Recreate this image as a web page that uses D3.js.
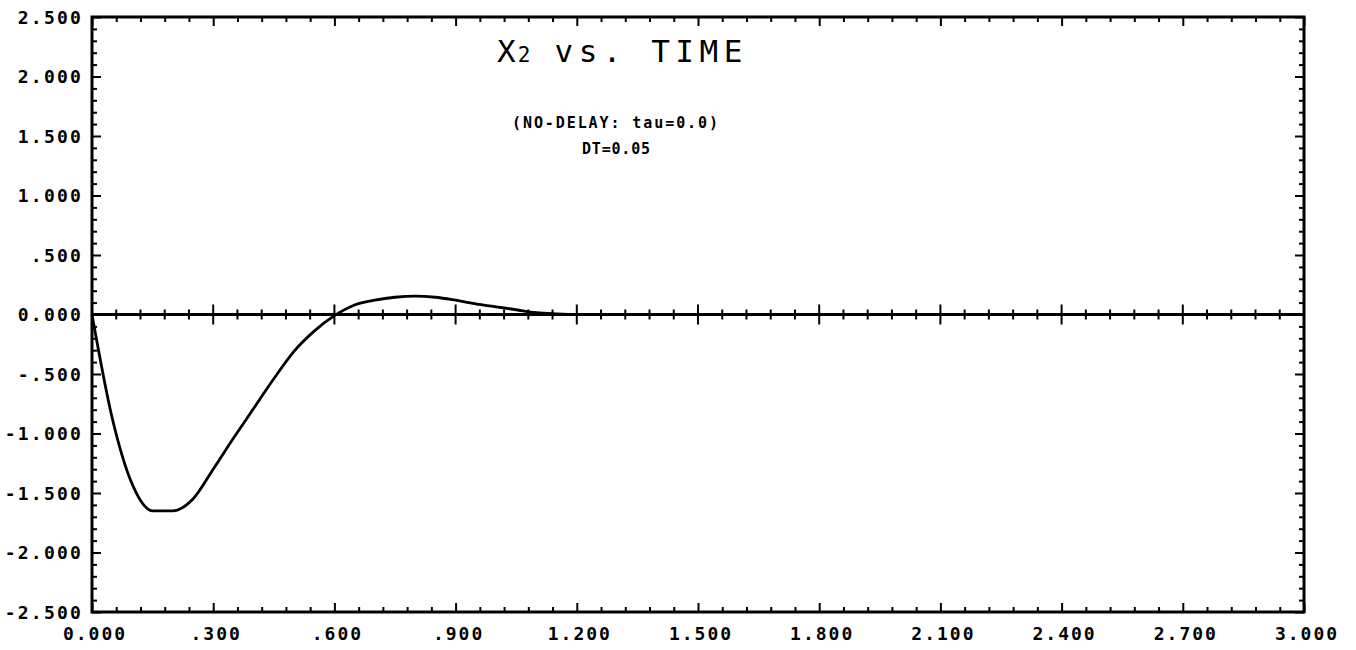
<!DOCTYPE html>
<html>
<head>
<meta charset="utf-8">
<script src="https://cdn.jsdelivr.net/npm/d3@7"></script>
<style>
  html, body { margin: 0; padding: 0; background: #fff; }
  svg { display: block; }
  .lbl { font-family: "DejaVu Sans Mono", monospace; font-weight: bold; font-size: 18px; fill: #000; }
  .ttl { font-family: "DejaVu Sans Mono", monospace; font-size: 31px; fill: #000; }
  .sub { font-family: "DejaVu Sans Mono", monospace; font-weight: bold; font-size: 15px; fill: #000; }
</style>
</head>
<body>
<svg id="chart" width="1356" height="650"></svg>
<script>
// ---- data ----
const timeValues = [0.00,0.05,0.10,0.15,0.20,0.25,0.30,0.35,0.40,0.45,0.50,0.55,0.60,0.65,0.70,0.75,0.80,0.85,0.90,0.95,1.00,1.05,1.10,1.15,1.20,1.30,1.40,1.50,1.60,1.70,1.80,1.90,2.00,2.20,2.40,2.60,2.80,3.00];
const x2Values   = [0.00,-0.87,-1.43,-1.65,-1.65,-1.55,-1.30,-1.04,-0.79,-0.54,-0.31,-0.14,-0.01,0.08,0.12,0.145,0.155,0.145,0.12,0.09,0.065,0.04,0.015,0.005,0.00,0.00,0.00,0.00,0.00,0.00,0.00,0.00,0.00,0.00,0.00,0.00,0.00,0.00];
const xTickValues = [0,0.3,0.6,0.9,1.2,1.5,1.8,2.1,2.4,2.7,3.0];
const xTickLabels = ["0.000",".300",".600",".900","1.200","1.500","1.800","2.100","2.400","2.700","3.000"];
const yTickValues = [2.5,2.0,1.5,1.0,0.5,0,-0.5,-1.0,-1.5,-2.0,-2.5];
const yTickLabels = ["2.500","2.000","1.500","1.000",".500","0.000","-.500","-1.000","-1.500","-2.000","-2.500"];
const titleMain = "X";
const titleSub = "2";
const titleRest = " vs. TIME";
const subtitle1 = "(NO-DELAY: tau=0.0)";
const subtitle2 = "DT=0.05";

// ---- layout ----
const L = 92, R = 1304, T = 17, B = 612;
const svg = d3.select("#chart");
const x = d3.scaleLinear().domain([0, 3]).range([L, R]);
const y = d3.scaleLinear().domain([-2.5, 2.5]).range([B, T]);

const xMinor = d3.range(0, 3.0001, 0.06);
const yMinor = d3.range(-2.5, 2.5001, 0.1);
const isMajorX = v => Math.abs(v / 0.3 - Math.round(v / 0.3)) < 1e-6;
const isMajorY = v => Math.abs(v / 0.5 - Math.round(v / 0.5)) < 1e-6;

function styleAxis(g) {
  g.select(".domain").remove();
  g.selectAll("line").attr("stroke", "#000").attr("stroke-width", 2);
  g.selectAll("text").remove();
}
// bottom axis: ticks pointing up (inward)
svg.append("g").attr("transform", `translate(0,${B})`)
  .call(d3.axisTop(x).tickValues(xMinor.filter(v => !isMajorX(v))).tickSize(5)).call(styleAxis);
svg.append("g").attr("transform", `translate(0,${B})`)
  .call(d3.axisTop(x).tickValues(xTickValues).tickSize(9)).call(styleAxis);
// top axis: ticks pointing down
svg.append("g").attr("transform", `translate(0,${T})`)
  .call(d3.axisBottom(x).tickValues(xMinor.filter(v => !isMajorX(v))).tickSize(5)).call(styleAxis);
svg.append("g").attr("transform", `translate(0,${T})`)
  .call(d3.axisBottom(x).tickValues(xTickValues).tickSize(9)).call(styleAxis);
// left axis: ticks pointing right
svg.append("g").attr("transform", `translate(${L},0)`)
  .call(d3.axisRight(y).tickValues(yMinor.filter(v => !isMajorY(v))).tickSize(5)).call(styleAxis);
svg.append("g").attr("transform", `translate(${L},0)`)
  .call(d3.axisRight(y).tickValues(yTickValues).tickSize(9)).call(styleAxis);
// right axis: ticks pointing left
svg.append("g").attr("transform", `translate(${R},0)`)
  .call(d3.axisLeft(y).tickValues(yMinor.filter(v => !isMajorY(v))).tickSize(5)).call(styleAxis);
svg.append("g").attr("transform", `translate(${R},0)`)
  .call(d3.axisLeft(y).tickValues(yTickValues).tickSize(9)).call(styleAxis);

// zero line with crossing ticks
const zy = y(0);
svg.append("line").attr("x1", L).attr("x2", R).attr("y1", zy).attr("y2", zy)
  .attr("stroke", "#000").attr("stroke-width", 3);
svg.append("g").selectAll("line").data(xMinor).join("line")
  .attr("x1", d => x(d)).attr("x2", d => x(d))
  .attr("y1", d => zy - (isMajorX(d) ? 10 : 5))
  .attr("y2", d => zy + (isMajorX(d) ? 10 : 5))
  .attr("stroke", "#000").attr("stroke-width", 2);

// frame
svg.append("rect").attr("x", L).attr("y", T).attr("width", R - L).attr("height", B - T)
  .attr("fill", "none").attr("stroke", "#000").attr("stroke-width", 3);

// tick labels
svg.append("g").selectAll("text").data(xTickValues).join("text")
  .attr("class", "lbl")
  .attr("x", d => x(d) + 3).attr("y", 640)
  .attr("text-anchor", "middle")
  .attr("letter-spacing", "2")
  .text((d, i) => xTickLabels[i]);
svg.append("g").selectAll("text").data(yTickValues).join("text")
  .attr("class", "lbl")
  .attr("x", 83).attr("y", d => y(d) + 6.5)
  .attr("text-anchor", "end")
  .attr("letter-spacing", "2.2")
  .text((d, i) => yTickLabels[i]);

// curve
const pts = timeValues.map((t, i) => [t, x2Values[i]]);
svg.append("path").datum(pts)
  .attr("d", d3.line().x(d => x(d[0])).y(d => y(d[1])).curve(d3.curveMonotoneX))
  .attr("fill", "none").attr("stroke", "#000").attr("stroke-width", 2.8)
  .attr("stroke-linejoin", "round");

// titles
const tt = svg.append("text").attr("class", "ttl").attr("x", 497).attr("y", 62);
tt.append("tspan").text(titleMain);
tt.append("tspan").attr("font-size", "21px").attr("dx", 2).text(titleSub);
tt.append("tspan").attr("letter-spacing", "5.5").text(titleRest);
svg.append("text").attr("class", "sub").attr("x", 615).attr("y", 128)
  .attr("text-anchor", "middle").attr("textLength", 206).attr("lengthAdjust", "spacing")
  .text(subtitle1);
svg.append("text").attr("class", "sub").attr("x", 616).attr("y", 154)
  .attr("text-anchor", "middle").attr("textLength", 68).attr("lengthAdjust", "spacing")
  .text(subtitle2);
</script>
</body>
</html>
